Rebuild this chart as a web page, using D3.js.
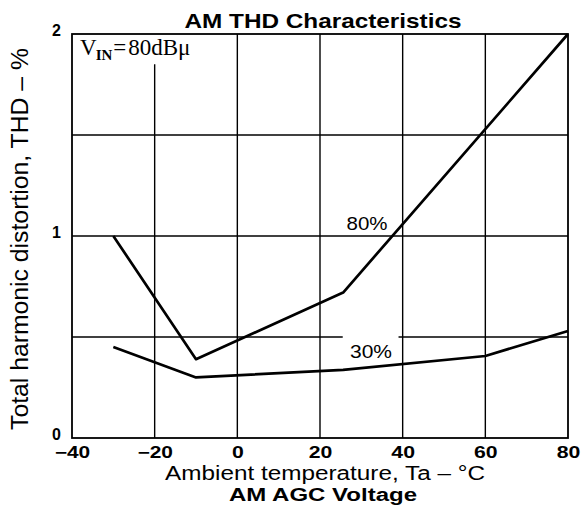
<!DOCTYPE html>
<html><head><meta charset="utf-8">
<script src="https://cdn.jsdelivr.net/npm/d3@7"></script>
<style>body{margin:0;background:#fff}svg{display:block}</style>
</head><body>
<svg id="c" width="582" height="508"></svg>
<script>
const temps80 = [-30, -10, 25.6, 80];
const thd80 = [1.0, 0.39, 0.72, 2.0];
const temps30 = [-30, -10, 25.6, 60, 80];
const thd30 = [0.45, 0.30, 0.337, 0.406, 0.53];
const xTicks = [-40, -20, 0, 20, 40, 60, 80];
const yTicks = [0, 1, 2];
const yGrid = [0.5, 1, 1.5];
const xGrid = [-20, 0, 20, 40, 60];

const svg = d3.select("#c");
const m = {l:72, r:568, t:34, b:438};
const x = d3.scaleLinear().domain([-40,80]).range([m.l,m.r]);
const y = d3.scaleLinear().domain([0,2]).range([m.b,m.t]);
const ff = "Liberation Sans, Arial, sans-serif";

// grid
svg.append("g").selectAll("line").data(xGrid).join("line")
  .attr("x1",d=>x(d)).attr("x2",d=>x(d))
  .attr("y1",d=>d===-20?y(1.85):y(2)).attr("y2",y(0))
  .attr("stroke","#000").attr("stroke-width",1.4);
svg.append("g").selectAll("line").data(yGrid).join("line")
  .attr("x1",x(-40)).attr("x2",x(80))
  .attr("y1",d=>y(d)).attr("y2",d=>y(d))
  .attr("stroke","#000").attr("stroke-width",1.4);
// gap for 30% label
svg.append("rect").attr("x",x(25.5)).attr("y",y(0.5)-3).attr("width",x(39)-x(25.5)).attr("height",6).attr("fill","#fff");

// frame
svg.append("rect").attr("x",m.l).attr("y",m.t).attr("width",m.r-m.l).attr("height",m.b-m.t)
  .attr("fill","none").attr("stroke","#000").attr("stroke-width",1.8);

// axes
const xa = svg.append("g").attr("transform",`translate(0,${m.b})`)
  .call(d3.axisBottom(x).tickValues(xTicks).tickSize(0).tickPadding(9).tickFormat(d=>d<0?"\u2212"+Math.abs(d):d));
xa.select(".domain").remove();
xa.selectAll("text").attr("font-family",ff).attr("font-size",16).attr("font-weight","bold").attr("fill","#000")
  .attr("textLength",d=>String(d).length*11.8).attr("lengthAdjust","spacingAndGlyphs");
const ya = svg.append("g").attr("transform",`translate(${m.l},-4)`)
  .call(d3.axisLeft(y).tickValues(yTicks).tickSize(0).tickPadding(11).tickFormat(d3.format("d")));
ya.select(".domain").remove();
ya.selectAll("text").attr("font-family",ff).attr("font-size",16).attr("font-weight","bold").attr("fill","#000");

// lines
const line = d3.line().x(d=>x(d[0])).y(d=>y(d[1]));
svg.append("path").attr("d",line(temps80.map((t,i)=>[t,thd80[i]])))
  .attr("fill","none").attr("stroke","#000").attr("stroke-width",2.7).attr("stroke-linejoin","round");
svg.append("path").attr("d",line(temps30.map((t,i)=>[t,thd30[i]])))
  .attr("fill","none").attr("stroke","#000").attr("stroke-width",2.7).attr("stroke-linejoin","round");

// labels
svg.append("text").attr("x",367).attr("y",230).attr("font-family",ff).attr("font-size",19).attr("text-anchor","middle")
  .attr("textLength",41).attr("lengthAdjust","spacingAndGlyphs").text("80%");
svg.append("text").attr("x",371).attr("y",358).attr("font-family",ff).attr("font-size",19).attr("text-anchor","middle")
  .attr("textLength",42).attr("lengthAdjust","spacingAndGlyphs").text("30%");

const vin = svg.append("text").attr("x",80).attr("y",55).attr("font-family","Liberation Serif, Times New Roman, serif").attr("font-size",23);
vin.append("tspan").text("V");
vin.append("tspan").attr("font-size",15).attr("font-weight","bold").attr("dy",5).attr("dx",-1).text("IN");
vin.append("tspan").attr("dy",-5).attr("dx",1).text("=");
vin.append("tspan").attr("dx",2).text("80dB\u03bc");

svg.append("text").attr("x",323).attr("y",28).attr("font-family",ff).attr("font-size",21).attr("font-weight","bold").attr("text-anchor","middle")
  .attr("textLength",277).attr("lengthAdjust","spacingAndGlyphs").text("AM THD Characteristics");
svg.append("text").attr("x",325).attr("y",480).attr("font-family",ff).attr("font-size",20).attr("text-anchor","middle")
  .attr("textLength",320).attr("lengthAdjust","spacingAndGlyphs").text("Ambient temperature, Ta \u2013 \u00b0C");
svg.append("text").attr("x",323).attr("y",501).attr("font-family",ff).attr("font-size",18).attr("font-weight","bold").attr("text-anchor","middle")
  .attr("textLength",188).attr("lengthAdjust","spacingAndGlyphs").text("AM AGC Voltage");
svg.append("text").attr("transform","translate(28,239) rotate(-90)").attr("font-family",ff).attr("font-size",23).attr("text-anchor","middle")
  .attr("textLength",382).attr("lengthAdjust","spacingAndGlyphs").text("Total harmonic distortion, THD \u2013 %");
</script>
</body></html>
